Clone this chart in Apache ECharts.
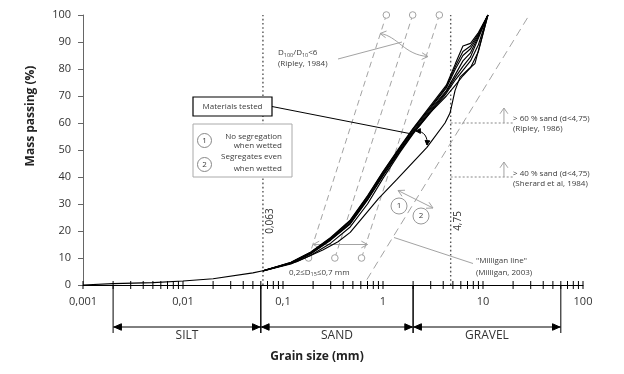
<!DOCTYPE html>
<html><head><meta charset="utf-8">
<script src="https://cdn.jsdelivr.net/npm/echarts@6/dist/echarts.min.js"></script>
<style>html,body{margin:0;padding:0;background:#fff}#c{width:624px;height:374px}</style>
</head><body><div id="c"></div>
<script>
// ---------- data ----------
const FINES_X = [0.001, 0.002, 0.005, 0.01, 0.02, 0.05, 0.063];
const FINES_Y = [0, 0.5, 0.9, 1.5, 2.3, 4.5, 5.3];
const GRAD_X = [0.063, 0.12, 0.19, 0.3, 0.47, 0.7, 1, 1.5, 2, 3, 4.3, 5.3, 6.3, 7.5, 9, 11.2];
const CURVE_A = [5.3, 8.4, 12.2, 17.6, 24.0, 33.0, 42.0, 51.5, 58.0, 66.5, 74.0, 82.0, 88.5, 89.5, 93.5, 100];
const CURVE_B = [5.3, 8.2, 12.0, 17.2, 23.5, 32.5, 41.5, 51.0, 57.5, 65.5, 73.0, 80.0, 85.0, 87.5, 92.5, 100];
const CURVE_C = [5.2, 8.1, 11.8, 17.0, 23.0, 32.0, 41.0, 50.5, 57.0, 65.0, 72.0, 78.0, 83.0, 86.0, 92.0, 100];
const CURVE_D = [5.2, 8.0, 11.6, 16.6, 22.6, 31.5, 40.5, 50.0, 56.5, 64.5, 71.5, 77.0, 81.0, 84.5, 91.5, 100];
const CURVE_E = [5.3, 8.1, 11.7, 16.8, 22.8, 31.6, 40.6, 50.0, 56.3, 64.0, 70.0, 74.0, 77.5, 80.5, 86.5, 100];
const CURVE_F = [5.3, 8.3, 12.1, 17.4, 23.8, 32.8, 41.8, 51.2, 57.8, 66.0, 73.5, 81.0, 86.5, 88.5, 93.0, 100];
const CURVE_G = [5.2, 7.8, 11.0, 15.5, 21.5, 30.0, 39.5, 49.5, 56.0, 64.0, 71.0, 76.0, 79.5, 83.0, 89.0, 100];
const OUTLIER_X = [0.063, 0.1, 0.137, 0.25, 0.355, 0.47, 0.9, 1.37, 2.75, 4.17, 4.68, 5.25, 5.9, 7.2, 8.3, 11.2];
const OUTLIER_Y = [5.3, 7.2, 8.6, 13.0, 16.0, 19.5, 32.0, 39.0, 51.0, 60.0, 63.7, 72.0, 77.0, 80.0, 82.0, 100];
const X_TICK_LABELS = ['0,001', '0,01', '0,1', '1', '10', '100'];
const ZONE_BOUNDS = [0.002, 0.06, 2, 60];
const ZONE_NAMES = ['SILT', 'SAND', 'GRAVEL'];
const REF_SIZES = [0.063, 4.75];
const REF_LABELS = ['0,063', '4,75'];
const RIPLEY_D10 = [0.18, 0.33, 0.61];
const RIPLEY_RATIO = 6;
const MILLIGAN_X = [0.69, 29];
const MILLIGAN_Y = [2, 100];
const D15_RANGE = [0.2, 0.7];
const SAND_LIMITS = [60, 40];
const SAND_LINE_END = 20;
const SAND_ARROW_X = 16.2;

const TICK_VALUES = [];
for (let e = -3; e <= 1; e++) for (let m = 1; m <= 9; m++) TICK_VALUES.push(+(m * Math.pow(10, e)).toPrecision(3));
TICK_VALUES.push(100);

// ---------- helpers ----------
const FONT = '"Open Sans", sans-serif';
const TXT = '#3c3c3c';
const GRAY = '#a3a3a3';
function seg(x1, y1, x2, y2, color, w, dash) {
  return { type: 'line', shape: { x1, y1, x2, y2 }, style: { stroke: color, lineWidth: w || 1, lineDash: dash || null } };
}
function head(x, y, ang, len, spread, color, filled) {
  const p1 = [x - len * Math.cos(ang - spread), y - len * Math.sin(ang - spread)];
  const p2 = [x - len * Math.cos(ang + spread), y - len * Math.sin(ang + spread)];
  return filled
    ? { type: 'polygon', shape: { points: [p1, [x, y], p2] }, style: { fill: color, stroke: color, lineWidth: 1 } }
    : { type: 'polyline', shape: { points: [p1, [x, y], p2] }, style: { stroke: color, fill: 'none', lineWidth: 1 } };
}
function txt(text, x, y, size, align, extra) {
  return Object.assign({ type: 'text', x: x, y: y, style: {
    text: text, font: size + 'px ' + FONT, fill: TXT,
    align: align || 'left', textAlign: align || 'left', verticalAlign: 'middle', textVerticalAlign: 'middle'
  } }, extra || {});
}
function curve(xs, ys) {
  return { type: 'line', data: xs.map((x, i) => [x, ys[i]]), showSymbol: false, symbol: 'none',
    lineStyle: { color: '#000', width: 1.15 }, z: 5, silent: true, animation: false };
}

const chart = echarts.init(document.getElementById('c'));

const series = [
  // dotted reference verticals
  { type: 'custom', coordinateSystem: 'cartesian2d', clip: false, z: 2,
    data: REF_SIZES.map(v => [v, 0, v, 100]), encode: { x: [0, 2], y: [1, 3] },
    renderItem: (p, api) => {
      const a = api.coord([api.value(0), 0]), b = api.coord([api.value(0), 100]);
      return { type: 'group', children: [
        seg(a[0], a[1], b[0], b[1], '#555', 1.4, [1.6, 2.6]),
        { type: 'text', x: a[0] + 7, y: a[1] - 64, rotation: Math.PI / 2,
          style: { text: REF_LABELS[p.dataIndex], font: '10px ' + FONT, fill: '#333', align: 'center', textAlign: 'center', verticalAlign: 'middle', textVerticalAlign: 'middle' } }
      ] };
    } },
  // Ripley lines
  { type: 'custom', coordinateSystem: 'cartesian2d', clip: false, z: 2,
    data: RIPLEY_D10.map(d => [d, 10, d * RIPLEY_RATIO, 100]), encode: { x: [0, 2], y: [1, 3] },
    renderItem: (p, api) => {
      const a = api.coord([api.value(0), api.value(1)]), b = api.coord([api.value(2), api.value(3)]);
      const c = (q) => ({ type: 'circle', shape: { cx: q[0], cy: q[1], r: 3.3 }, style: { stroke: GRAY, fill: '#fff', lineWidth: 1 } });
      return { type: 'group', children: [seg(a[0], a[1], b[0], b[1], GRAY, 1, [6, 4]), c(a), c(b)] };
    } },
  // Milligan line
  { type: 'custom', coordinateSystem: 'cartesian2d', clip: false, z: 2,
    data: [[MILLIGAN_X[0], MILLIGAN_Y[0], MILLIGAN_X[1], MILLIGAN_Y[1]]], encode: { x: [0, 2], y: [1, 3] },
    renderItem: (p, api) => {
      const a = api.coord([api.value(0), api.value(1)]), b = api.coord([api.value(2), api.value(3)]);
      return seg(a[0], a[1], b[0], b[1], GRAY, 1, [8, 5]);
    } },
  // D15 range arrow
  { type: 'custom', coordinateSystem: 'cartesian2d', clip: false, z: 3,
    data: [[D15_RANGE[0], 15, D15_RANGE[1], 15]], encode: { x: [0, 2], y: [1, 3] },
    renderItem: (p, api) => {
      const a = api.coord([api.value(0), 15]), b = api.coord([api.value(2), 15]);
      return { type: 'group', children: [seg(a[0], a[1], b[0], b[1], GRAY, 1),
        head(a[0], a[1], Math.PI, 7, 0.5, GRAY, false), head(b[0], b[1], 0, 7, 0.5, GRAY, false)] };
    } },
  // sand limits
  { type: 'custom', coordinateSystem: 'cartesian2d', clip: false, z: 2,
    data: SAND_LIMITS.map(v => [REF_SIZES[1], v, SAND_LINE_END, v]), encode: { x: [0, 2], y: [1, 3] },
    renderItem: (p, api) => {
      const v = api.value(1);
      const a = api.coord([api.value(0), v]), b = api.coord([api.value(2), v]);
      const q = api.coord([SAND_ARROW_X, v]);
      return { type: 'group', children: [seg(a[0], a[1], b[0], b[1], '#888', 1, [2, 2]),
        seg(q[0], q[1], q[0], q[1] - 15, GRAY, 1), head(q[0], q[1] - 15, -Math.PI / 2, 7, 0.6, GRAY, false)] };
    } },
  // x ticks crossing axis
  { type: 'custom', coordinateSystem: 'cartesian2d', clip: false, z: 6,
    data: TICK_VALUES.map(v => [v, 0]), encode: { x: 0, y: 1 },
    renderItem: (p, api) => {
      const a = api.coord([api.value(0), 0]);
      return seg(a[0], a[1] - 4, a[0], a[1] + 4, '#000', 1);
    } },
  // zones
  { type: 'custom', coordinateSystem: 'cartesian2d', clip: false, z: 6,
    data: ZONE_NAMES.map((n, i) => [ZONE_BOUNDS[i], 0, ZONE_BOUNDS[i + 1], 0]), encode: { x: [0, 2], y: [1, 3] },
    renderItem: (p, api) => {
      const a = api.coord([api.value(0), 0]), b = api.coord([api.value(2), 0]);
      const y = a[1] + 42;
      const ch = [seg(a[0], y, b[0], y, '#000', 1),
        head(a[0] + 1, y, Math.PI, 8, 0.42, '#000', true), head(b[0] - 1, y, 0, 8, 0.42, '#000', true),
        seg(a[0], a[1], a[0], a[1] + 48, '#000', 1), seg(b[0], b[1], b[0], b[1] + 48, '#000', 1),
        { type: 'text', x: (a[0] + b[0]) / 2, y: y + 9, style: { text: ZONE_NAMES[p.dataIndex], font: '12px ' + FONT, fill: '#333', align: 'center', textAlign: 'center', verticalAlign: 'middle', textVerticalAlign: 'middle' } }];
      return { type: 'group', children: ch };
    } },
  curve(FINES_X, FINES_Y),
  curve(GRAD_X, CURVE_A), curve(GRAD_X, CURVE_B), curve(GRAD_X, CURVE_C), curve(GRAD_X, CURVE_D),
  curve(GRAD_X, CURVE_E), curve(GRAD_X, CURVE_F), curve(GRAD_X, CURVE_G),
  curve(OUTLIER_X, OUTLIER_Y)
];

const richSub = {
  n: { font: '8px ' + FONT, fill: TXT },
  s: { font: '5.5px ' + FONT, fill: TXT, verticalAlign: 'bottom', padding: [4, 0, 0, 0] }
};

const graphic = [
  // axis titles
  { type: 'text', x: 31, y: 116, rotation: Math.PI / 2, style: { text: 'Mass passing (%)', font: 'bold 12px ' + FONT, fill: '#222', align: 'center', textAlign: 'center', verticalAlign: 'middle', textVerticalAlign: 'middle' } },
  { type: 'text', x: 317, y: 357, style: { text: 'Grain size (mm)', font: 'bold 12px ' + FONT, fill: '#222', align: 'center', textAlign: 'center', verticalAlign: 'middle', textVerticalAlign: 'middle' } },
  // Ripley D100/D10 annotation
  { type: 'text', x: 278, y: 53, style: { text: '{n|D}{s|100}{n|/D}{s|10}{n|<6}', rich: richSub, align: 'left', textAlign: 'left', verticalAlign: 'middle', textVerticalAlign: 'middle' } },
  txt('(Ripley, 1984)', 278, 63.5, 8),
  seg(338, 59, 402, 42, GRAY, 1),
  { type: 'bezierCurve', shape: { x1: 380, y1: 33.5, cpx1: 398, cpy1: 36, cpx2: 404, cpy2: 55, x2: 428, y2: 56.5 }, style: { stroke: GRAY, fill: 'none', lineWidth: 1 } },
  head(380, 33.5, Math.atan2(33.5 - 36, 380 - 398), 7, 0.5, GRAY, false),
  head(428, 56.5, Math.atan2(56.5 - 55, 428 - 404), 7, 0.5, GRAY, false),
  // Materials tested
  { type: 'rect', shape: { x: 193, y: 97, width: 79, height: 19 }, style: { fill: '#fff', stroke: '#000', lineWidth: 1.2 } },
  txt('Materials tested', 232.5, 106.5, 8, 'center'),
  seg(272, 106.5, 412, 134, '#000', 1),
  { type: 'bezierCurve', shape: { x1: 416, y1: 131, cpx1: 424, cpy1: 131, cpx2: 428, cpy2: 137, x2: 427, y2: 145 }, style: { stroke: '#000', fill: 'none', lineWidth: 1 } },
  head(416, 131, Math.PI, 5, 0.5, '#000', true),
  head(427, 145, Math.PI / 2 + 0.1, 5, 0.5, '#000', true),
  // Legend box
  { type: 'rect', shape: { x: 193, y: 124, width: 99, height: 53 }, style: { fill: '#fff', stroke: '#aaa', lineWidth: 1 } },
  { type: 'circle', shape: { cx: 204.5, cy: 140.5, r: 7 }, style: { fill: '#fff', stroke: '#888', lineWidth: 1 } },
  txt('1', 204.5, 140.5, 8, 'center'),
  { type: 'circle', shape: { cx: 204.5, cy: 164.5, r: 7 }, style: { fill: '#fff', stroke: '#888', lineWidth: 1 } },
  txt('2', 204.5, 164.5, 8, 'center'),
  txt('No segregation', 282, 136.7, 8, 'right'),
  txt('when wetted', 282, 145.8, 8, 'right'),
  txt('Segregates even', 282, 156.7, 8, 'right'),
  txt('when wetted', 282, 168.3, 8, 'right'),
  // right side texts
  txt('> 60 % sand (d<4,75)', 513, 118.3, 8),
  txt('(Ripley, 1986)', 513, 128.5, 8),
  txt('> 40 % sand (d<4,75)', 513, 173.3, 8),
  txt('(Sherard et al, 1984)', 513, 183.5, 8),
  // 1 / 2 circles and arrow
  seg(398, 190.5, 433, 208, GRAY, 1),
  head(398, 190.5, Math.atan2(190.5 - 208, 398 - 433), 7, 0.5, GRAY, false),
  head(433, 208, Math.atan2(208 - 190.5, 433 - 398), 7, 0.5, GRAY, false),
  { type: 'circle', shape: { cx: 399, cy: 206, r: 8 }, style: { fill: '#fff', stroke: '#999', lineWidth: 1 } },
  txt('1', 399, 206, 8, 'center'),
  { type: 'circle', shape: { cx: 421, cy: 216, r: 8 }, style: { fill: '#fff', stroke: '#999', lineWidth: 1 } },
  txt('2', 421, 216, 8, 'center'),
  // Milligan
  seg(394, 237.5, 473, 263.5, GRAY, 1),
  txt('"Milligan line"', 476, 261, 8),
  txt('(Milligan, 2003)', 476, 272.7, 8),
  // D15
  { type: 'text', x: 289, y: 272.5, style: { text: '{n|0,2≤D}{s|15}{n|≤0,7 mm}', rich: richSub, align: 'left', textAlign: 'left', verticalAlign: 'middle', textVerticalAlign: 'middle' } }
].map(g => Object.assign({ z: 100 }, g));

chart.setOption({
  animation: false,
  backgroundColor: '#fff',
  grid: { left: 83, right: 41, top: 15, bottom: 89, containLabel: false },
  xAxis: {
    type: 'log', logBase: 10, min: 0.001, max: 100,
    axisLine: { show: true, lineStyle: { color: '#000', width: 1 } },
    axisTick: { show: false }, minorTick: { show: false },
    splitLine: { show: false },
    axisLabel: { color: '#333', fontFamily: 'Open Sans', fontSize: 11, margin: 11,
      formatter: v => X_TICK_LABELS[Math.round(Math.log10(v)) + 3] }
  },
  yAxis: {
    type: 'value', min: 0, max: 100, interval: 10,
    axisLine: { show: true, lineStyle: { color: '#666', width: 1 } },
    axisTick: { show: true, length: 5, lineStyle: { color: '#666' } },
    splitLine: { show: false },
    axisLabel: { color: '#333', fontFamily: 'Open Sans', fontSize: 11, margin: 12 }
  },
  series: series,
  graphic: graphic
});
</script>
</body></html>
